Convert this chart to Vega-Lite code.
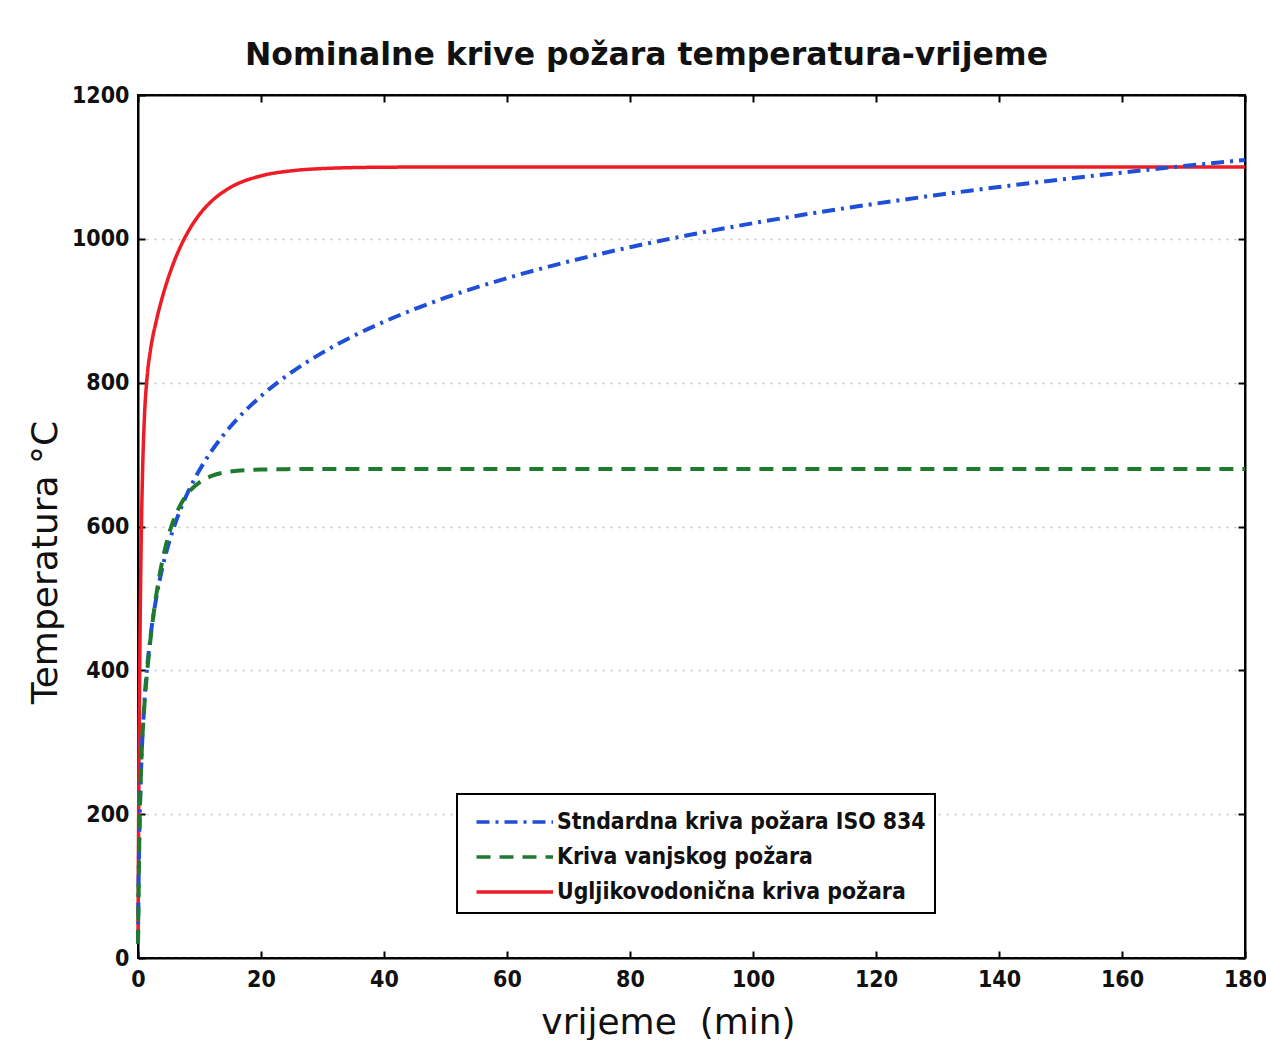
{
  "$schema": "https://vega.github.io/schema/vega-lite/v6.json",
  "width": 1107,
  "height": 863,
  "autosize": {"type": "none"},
  "padding": {"left": 138, "top": 95, "right": 21, "bottom": 82},
  "background": "white",
  "title": {"text": "Nominalne krive požara temperatura-vrijeme", "font": "DejaVu Sans", "fontSize": 31.5, "fontWeight": "bold", "color": "#111111", "anchor": "middle", "dx": -45, "offset": -12, "baseline": "alphabetic"},
  "config": {
    "view": {"stroke": "black", "strokeWidth": 2},
    "legend": {"strokeWidth": 2}
  },
  "data": {"values": [
    {"t": 0, "T": 20, "c": "Stndardna kriva požara ISO 834"},
    {"t": 0.1, "T": 108.1, "c": "Stndardna kriva požara ISO 834"},
    {"t": 0.25, "T": 184.6, "c": "Stndardna kriva požara ISO 834"},
    {"t": 0.5, "T": 261.2, "c": "Stndardna kriva požara ISO 834"},
    {"t": 1, "T": 349.2, "c": "Stndardna kriva požara ISO 834"},
    {"t": 2, "T": 444.5, "c": "Stndardna kriva požara ISO 834"},
    {"t": 3, "T": 502.3, "c": "Stndardna kriva požara ISO 834"},
    {"t": 4, "T": 543.9, "c": "Stndardna kriva požara ISO 834"},
    {"t": 5, "T": 576.4, "c": "Stndardna kriva požara ISO 834"},
    {"t": 6, "T": 603.1, "c": "Stndardna kriva požara ISO 834"},
    {"t": 7, "T": 625.8, "c": "Stndardna kriva požara ISO 834"},
    {"t": 8, "T": 645.5, "c": "Stndardna kriva požara ISO 834"},
    {"t": 9, "T": 662.8, "c": "Stndardna kriva požara ISO 834"},
    {"t": 10, "T": 678.4, "c": "Stndardna kriva požara ISO 834"},
    {"t": 12, "T": 705.4, "c": "Stndardna kriva požara ISO 834"},
    {"t": 15, "T": 738.6, "c": "Stndardna kriva požara ISO 834"},
    {"t": 20, "T": 781.3, "c": "Stndardna kriva požara ISO 834"},
    {"t": 25, "T": 814.6, "c": "Stndardna kriva požara ISO 834"},
    {"t": 30, "T": 841.8, "c": "Stndardna kriva požara ISO 834"},
    {"t": 35, "T": 864.8, "c": "Stndardna kriva požara ISO 834"},
    {"t": 40, "T": 884.7, "c": "Stndardna kriva požara ISO 834"},
    {"t": 50, "T": 918.1, "c": "Stndardna kriva požara ISO 834"},
    {"t": 60, "T": 945.3, "c": "Stndardna kriva požara ISO 834"},
    {"t": 70, "T": 968.4, "c": "Stndardna kriva požara ISO 834"},
    {"t": 80, "T": 988.4, "c": "Stndardna kriva požara ISO 834"},
    {"t": 90, "T": 1006.0, "c": "Stndardna kriva požara ISO 834"},
    {"t": 100, "T": 1021.7, "c": "Stndardna kriva požara ISO 834"},
    {"t": 110, "T": 1036.0, "c": "Stndardna kriva požara ISO 834"},
    {"t": 120, "T": 1049.0, "c": "Stndardna kriva požara ISO 834"},
    {"t": 130, "T": 1061.0, "c": "Stndardna kriva požara ISO 834"},
    {"t": 140, "T": 1072.1, "c": "Stndardna kriva požara ISO 834"},
    {"t": 150, "T": 1082.4, "c": "Stndardna kriva požara ISO 834"},
    {"t": 160, "T": 1092.1, "c": "Stndardna kriva požara ISO 834"},
    {"t": 170, "T": 1101.2, "c": "Stndardna kriva požara ISO 834"},
    {"t": 180, "T": 1109.7, "c": "Stndardna kriva požara ISO 834"},
    {"t": 0, "T": 20, "c": "Kriva vanjskog požara"},
    {"t": 0.25, "T": 181.6, "c": "Kriva vanjskog požara"},
    {"t": 0.5, "T": 262.7, "c": "Kriva vanjskog požara"},
    {"t": 1, "T": 346.1, "c": "Kriva vanjskog požara"},
    {"t": 1.5, "T": 398.7, "c": "Kriva vanjskog požara"},
    {"t": 2, "T": 440.8, "c": "Kriva vanjskog požara"},
    {"t": 3, "T": 506.4, "c": "Kriva vanjskog požara"},
    {"t": 4, "T": 553.9, "c": "Kriva vanjskog požara"},
    {"t": 5, "T": 588.5, "c": "Kriva vanjskog požara"},
    {"t": 6, "T": 613.5, "c": "Kriva vanjskog požara"},
    {"t": 7, "T": 631.7, "c": "Kriva vanjskog požara"},
    {"t": 8, "T": 645.0, "c": "Kriva vanjskog požara"},
    {"t": 10, "T": 661.5, "c": "Kriva vanjskog požara"},
    {"t": 12, "T": 670.3, "c": "Kriva vanjskog požara"},
    {"t": 15, "T": 676.3, "c": "Kriva vanjskog požara"},
    {"t": 20, "T": 679.2, "c": "Kriva vanjskog požara"},
    {"t": 25, "T": 679.8, "c": "Kriva vanjskog požara"},
    {"t": 30, "T": 680, "c": "Kriva vanjskog požara"},
    {"t": 60, "T": 680, "c": "Kriva vanjskog požara"},
    {"t": 90, "T": 680, "c": "Kriva vanjskog požara"},
    {"t": 120, "T": 680, "c": "Kriva vanjskog požara"},
    {"t": 150, "T": 680, "c": "Kriva vanjskog požara"},
    {"t": 180, "T": 680, "c": "Kriva vanjskog požara"},
    {"t": 0, "T": 20, "c": "Ugljikovodonična kriva požara"},
    {"t": 0.1, "T": 187.1, "c": "Ugljikovodonična kriva požara"},
    {"t": 0.25, "T": 373.2, "c": "Ugljikovodonična kriva požara"},
    {"t": 0.5, "T": 568.2, "c": "Ugljikovodonična kriva požara"},
    {"t": 0.75, "T": 678.6, "c": "Ugljikovodonična kriva požara"},
    {"t": 1, "T": 743.2, "c": "Ugljikovodonična kriva požara"},
    {"t": 1.5, "T": 809.6, "c": "Ugljikovodonična kriva požara"},
    {"t": 2, "T": 843.7, "c": "Ugljikovodonična kriva požara"},
    {"t": 3, "T": 886.9, "c": "Ugljikovodonična kriva požara"},
    {"t": 4, "T": 920.1, "c": "Ugljikovodonična kriva požara"},
    {"t": 5, "T": 947.7, "c": "Ugljikovodonična kriva požara"},
    {"t": 6, "T": 971.2, "c": "Ugljikovodonična kriva požara"},
    {"t": 7, "T": 990.9, "c": "Ugljikovodonična kriva požara"},
    {"t": 8, "T": 1007.7, "c": "Ugljikovodonična kriva požara"},
    {"t": 10, "T": 1033.9, "c": "Ugljikovodonična kriva požara"},
    {"t": 12, "T": 1052.7, "c": "Ugljikovodonična kriva požara"},
    {"t": 15, "T": 1071.3, "c": "Ugljikovodonična kriva požara"},
    {"t": 20, "T": 1087.6, "c": "Ugljikovodonična kriva požara"},
    {"t": 25, "T": 1094.6, "c": "Ugljikovodonična kriva požara"},
    {"t": 30, "T": 1097.7, "c": "Ugljikovodonična kriva požara"},
    {"t": 40, "T": 1099.6, "c": "Ugljikovodonična kriva požara"},
    {"t": 50, "T": 1099.9, "c": "Ugljikovodonična kriva požara"},
    {"t": 60, "T": 1100, "c": "Ugljikovodonična kriva požara"},
    {"t": 90, "T": 1100, "c": "Ugljikovodonična kriva požara"},
    {"t": 120, "T": 1100, "c": "Ugljikovodonična kriva požara"},
    {"t": 150, "T": 1100, "c": "Ugljikovodonična kriva požara"},
    {"t": 180, "T": 1100, "c": "Ugljikovodonična kriva požara"}
  ]},
  "resolve": {"axis": {"x": "independent", "y": "independent"}},
  "layer": [
    {
      "transform": [{"filter": "datum.c === 'Ugljikovodonična kriva požara'"}],
      "mark": {"type": "line", "strokeWidth": 3.5, "interpolate": "monotone"},
      "encoding": {
        "x": {"field": "t", "type": "quantitative", "scale": {"domain": [0, 180], "nice": false, "zero": false},
          "axis": {"orient": "bottom", "values": [0, 20, 40, 60, 80, 100, 120, 140, 160, 180], "format": "d", "tickSize": -7, "tickColor": "black", "tickWidth": 2, "domainColor": "black", "domainWidth": 2, "labelFont": "DejaVu Sans Condensed", "labelFontWeight": "bold", "labelFontSize": 23, "labelColor": "#111111", "labelPadding": 17, "labelFlush": false, "grid": false,
            "title": "vrijeme \u00a0(min)", "titleFont": "DejaVu Sans", "titleFontSize": 36, "titleFontWeight": "normal", "titleColor": "#111111", "titleX": 530, "titleY": 64, "titleBaseline": "middle", "titleAlign": "center"}},
        "y": {"field": "T", "type": "quantitative", "scale": {"domain": [0, 1200], "nice": false},
          "axis": {"orient": "left", "values": [0, 200, 400, 600, 800, 1000, 1200], "format": "d", "tickSize": -7, "tickColor": "black", "tickWidth": 2, "domainColor": "black", "domainWidth": 2, "labelFont": "DejaVu Sans Condensed", "labelFontWeight": "bold", "labelFontSize": 23, "labelColor": "#111111", "labelPadding": 16, "labelFlush": false,
            "grid": true, "gridDash": [2, 6], "gridColor": "#c4c4c4", "gridWidth": 1.5,
            "title": "Temperatura °C", "titleFont": "DejaVu Sans", "titleFontSize": 36, "titleFontWeight": "normal", "titleColor": "#111111", "titleX": -93, "titleY": 467, "titleAngle": -90, "titleBaseline": "middle", "titleAlign": "center"}},
        "color": {"field": "c", "type": "nominal",
          "scale": {"domain": ["Stndardna kriva požara ISO 834", "Kriva vanjskog požara", "Ugljikovodonična kriva požara"], "range": ["#1f4fd6", "#1e7a2c", "#ee1c25"]},
          "legend": {"orient": "none", "legendX": 319, "legendY": 699, "title": null, "direction": "vertical", "strokeColor": "black", "fillColor": "white", "padding": 9, "symbolType": "M-0.5,0H4.0", "symbolSize": 1156, "symbolStrokeWidth": 3.5, "labelFont": "DejaVu Sans Condensed", "labelFontSize": 22.8, "labelFontWeight": "bold", "labelColor": "#111111", "labelOffset": 53, "labelLimit": 600, "rowPadding": 4}},
        "strokeDash": {"field": "c", "type": "nominal",
          "scale": {"domain": ["Stndardna kriva požara ISO 834", "Kriva vanjskog požara", "Ugljikovodonična kriva požara"], "range": [[13, 6, 3, 6], [14, 9], [1, 0]]},
          "legend": {"orient": "none", "legendX": 319, "legendY": 699, "title": null, "direction": "vertical", "strokeColor": "black", "fillColor": "white", "padding": 9, "symbolType": "M-0.5,0H4.0", "symbolSize": 1156, "symbolStrokeWidth": 3.5, "labelFont": "DejaVu Sans Condensed", "labelFontSize": 22.8, "labelFontWeight": "bold", "labelColor": "#111111", "labelOffset": 53, "labelLimit": 600, "rowPadding": 4}}
      }
    },
    {
      "transform": [{"filter": "datum.c === 'Stndardna kriva požara ISO 834'"}],
      "mark": {"type": "line", "strokeWidth": 4, "interpolate": "monotone"},
      "encoding": {
        "x": {"field": "t", "type": "quantitative", "axis": null},
        "y": {"field": "T", "type": "quantitative", "axis": null},
        "color": {"field": "c", "type": "nominal"},
        "strokeDash": {"field": "c", "type": "nominal"}
      }
    },
    {
      "transform": [{"filter": "datum.c === 'Kriva vanjskog požara'"}],
      "mark": {"type": "line", "strokeWidth": 4, "interpolate": "monotone"},
      "encoding": {
        "x": {"field": "t", "type": "quantitative", "axis": null},
        "y": {"field": "T", "type": "quantitative", "axis": null},
        "color": {"field": "c", "type": "nominal"},
        "strokeDash": {"field": "c", "type": "nominal"}
      }
    },
    {
      "transform": [{"filter": "datum.c === 'Kriva vanjskog požara'"}],
      "mark": {"type": "point", "opacity": 0},
      "encoding": {
        "x": {"field": "t", "type": "quantitative",
          "axis": {"orient": "top", "values": [0, 20, 40, 60, 80, 100, 120, 140, 160, 180], "tickSize": -7, "tickColor": "black", "tickWidth": 2, "domainColor": "black", "domainWidth": 2, "labels": false, "title": null, "grid": false}},
        "y": {"field": "T", "type": "quantitative",
          "axis": {"orient": "right", "values": [0, 200, 400, 600, 800, 1000, 1200], "tickSize": -7, "tickColor": "black", "tickWidth": 2, "domainColor": "black", "domainWidth": 2, "labels": false, "title": null, "grid": false}}
      }
    }
  ]
}
